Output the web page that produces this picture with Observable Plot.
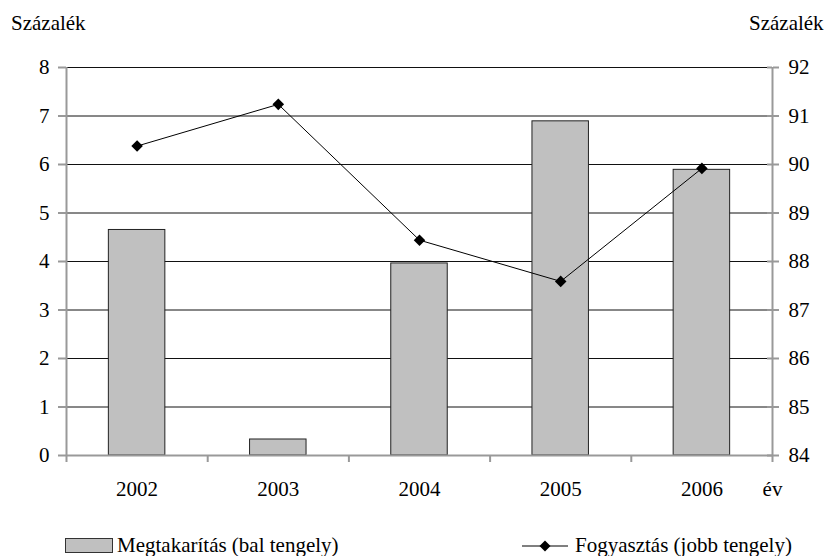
<!DOCTYPE html>
<html>
<head>
<meta charset="utf-8">
<script src="https://cdn.jsdelivr.net/npm/d3@7"></script>
<script src="https://cdn.jsdelivr.net/npm/@observablehq/plot@0.6"></script>
<style>
  body { margin: 0; background: #fff; font-family: 'Liberation Serif', serif; }
  #wrap { position: relative; width: 827px; height: 556px; }
  .lab { position: absolute; font-size: 21px; color: #000; white-space: nowrap; font-family: 'Liberation Serif', serif; }
  .leg { position: absolute; top: 533px; font-size: 21px; display: flex; align-items: center; white-space: nowrap; font-family: 'Liberation Serif', serif; }
  .sw { width: 46px; height: 13px; background: #c0c0c0; border: 1px solid #333; margin-right: 4px; }
  svg text { font-family: 'Liberation Serif', serif; }
</style>
</head>
<body>
<div id="wrap">
  <div class="lab" style="left:11px; top:11px;">Százalék</div>
  <div class="lab" style="left:749px; top:11px;">Százalék</div>
  <div id="chart"></div>
  <div class="leg" style="left:65px;"><div class="sw"></div>Megtakarítás (bal tengely)</div>
  <div class="leg" style="left:522px;"><svg width="48" height="14"><line x1="0" y1="7" x2="46" y2="7" stroke="#000" stroke-width="1"/><path d="M23,1.5L28.5,7L23,12.5L17.5,7Z" fill="#000"/></svg><span style="margin-left:5px">Fogyasztás (jobb tengely)</span></div>
</div>
<script>
const years = [2002, 2003, 2004, 2005, 2006];
const megtakaritas = [4.65, 0.33, 3.96, 6.89, 5.89];   // left axis, %
const fogyasztas = [90.38, 91.24, 88.44, 87.59, 89.92]; // right axis, %
const leftTicks = [0, 1, 2, 3, 4, 5, 6, 7, 8];
const rightTicks = [84, 85, 86, 87, 88, 89, 90, 91, 92];
const rightBase = 84;

const data = years.map((y, i) => ({year: y, save: megtakaritas[i], cons: fogyasztas[i]}));
const bounds = [years[0] - 0.5, ...years.map(y => y + 0.5)];
const half = 0.2;

const chart = Plot.plot({
  width: 827,
  height: 500,
  marginTop: 67,
  marginBottom: 45,
  marginLeft: 66,
  marginRight: 55,
  style: {fontFamily: "Liberation Serif, serif", fontSize: "21px", background: "white", color: "black"},
  x: {domain: [bounds[0], bounds[bounds.length - 1]], axis: null},
  y: {domain: [0, 8], axis: null},
  marks: [
    Plot.gridY(leftTicks.slice(1), {stroke: "#111", strokeOpacity: 1, strokeWidth: 1}),
    Plot.rectY(data, {x1: d => d.year - half, x2: d => d.year + half, y: "save", fill: "#c0c0c0", stroke: "#222", strokeWidth: 1}),
    Plot.ruleY([0], {stroke: "#999", strokeWidth: 2}),
    Plot.ruleX([bounds[0], bounds[bounds.length - 1]], {stroke: "#999", strokeWidth: 2}),
    Plot.axisY({anchor: "left", ticks: leftTicks, tickSize: 8, tickPadding: 9, stroke: "#999", strokeWidth: 2, label: null, tickFormat: d => String(d)}),
    Plot.axisY({anchor: "right", ticks: leftTicks, tickSize: 6, tickPadding: 10, stroke: "#999", strokeWidth: 2, label: null, tickFormat: (d, i) => String(rightTicks[i])}),
    Plot.axisY({anchor: "left", ticks: leftTicks, tickSize: 5, tickPadding: 0, stroke: "#999", strokeWidth: 2, label: null, dx: 706, tickFormat: () => ""}),
    Plot.axisX({ticks: bounds, tickSize: 7, tickPadding: 19, stroke: "#999", strokeWidth: 2, label: null, tickFormat: d => d === bounds[bounds.length - 1] ? "év" : ""}),
    Plot.axisX({ticks: years, tickSize: 0, tickPadding: 26, label: null, tickFormat: d => String(d)}),
    Plot.line(data, {x: "year", y: d => d.cons - rightBase, stroke: "#000", strokeWidth: 1}),
    Plot.dot(data, {x: "year", y: d => d.cons - rightBase, symbol: "diamond2", r: 5.2, fill: "#000", stroke: "none"})
  ]
});
document.getElementById("chart").appendChild(chart);
</script>
</body>
</html>
